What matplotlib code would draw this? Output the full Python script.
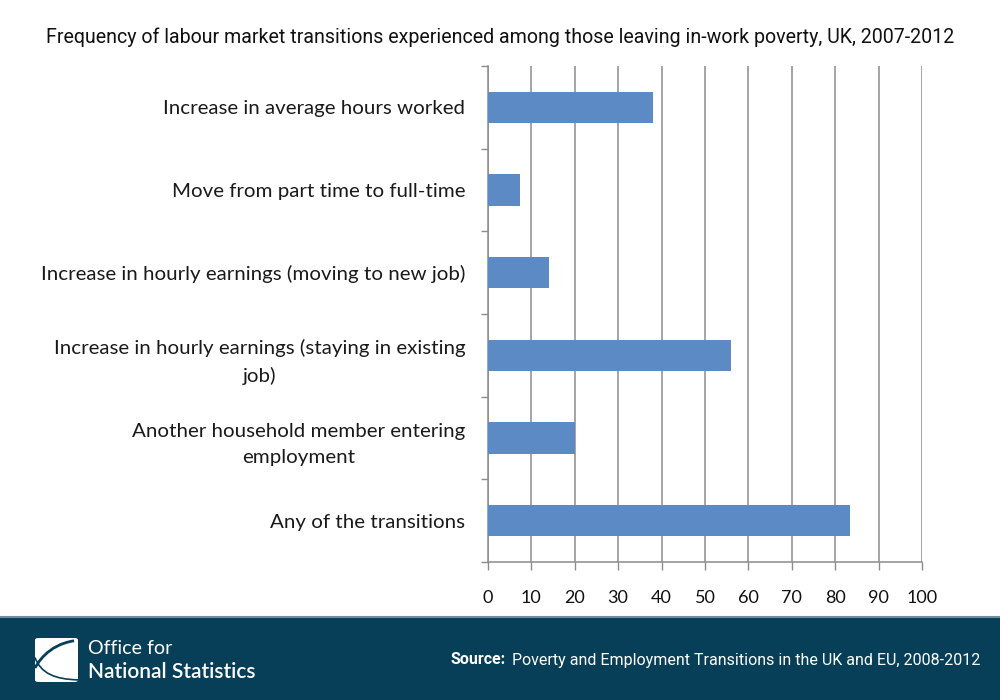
import matplotlib
matplotlib.use("Agg")
import matplotlib.pyplot as plt
from matplotlib.patches import Rectangle, FancyBboxPatch, PathPatch
from matplotlib.path import Path

title = "Frequency of labour market transitions experienced among those leaving in-work poverty, UK, 2007-2012"
categories = [
    "Increase in average hours worked",
    "Move from part time to full-time",
    "Increase in hourly earnings (moving to new job)",
    "Increase in hourly earnings (staying in existing\njob)",
    "Another household member entering\nemployment",
    "Any of the transitions",
]
values = [38, 7.5, 14, 56, 20, 83.3]
xticks = [0, 10, 20, 30, 40, 50, 60, 70, 80, 90, 100]
source_label = "Source:"
source_text = "Poverty and Employment Transitions in the UK and EU, 2008-2012"
org_line1 = "Office for"
org_line2 = "National Statistics"

W, H = 1000, 700
fig = plt.figure(figsize=(10, 7), dpi=100)
fig.patch.set_facecolor("white")

cond = ["Roboto", "DejaVu Sans"]
lab = ["Lato", "DejaVu Sans"]


def fit(t, width_px):
    fig.canvas.draw()
    w = t.get_window_extent().width
    t.set_fontsize(t.get_fontsize() * width_px / w)


ax = fig.add_axes([487.7 / W, 1 - 562 / H, (922.3 - 487.7) / W, (562 - 66) / H])
n = len(categories)
ypos = list(range(n))
ax.barh(ypos, values, height=0.38, color="#5B8AC5", zorder=3)
ax.set_ylim(n - 0.5, -0.5)
ax.set_xlim(0, 100)
ax.set_xticks(xticks)
ax.set_xticklabels([str(t) for t in xticks], fontsize=13, family=lab, color="#111111")
ax.set_yticks([i - 0.5 for i in range(n + 1)], minor=False)
ax.set_yticklabels([""] * (n + 1))
ax.set_yticks(ypos, minor=True)
ylabs = ax.set_yticklabels(categories, minor=True, fontsize=14, family=lab, color="#1a1a1a",
                           ha="right", multialignment="center", linespacing=1.65)
ax.tick_params(axis="y", which="minor", length=0, pad=16)
ax.tick_params(axis="y", which="major", length=5, color="#8c8c8c", width=1)
ax.tick_params(axis="x", length=6, color="#8c8c8c", width=1, pad=14)
ax.grid(axis="x", color="#8c8c8c", linewidth=1.1, zorder=0)
for s in ["top", "right"]:
    ax.spines[s].set_visible(False)
for s in ["left", "bottom"]:
    ax.spines[s].set_color("#8c8c8c")
    ax.spines[s].set_linewidth(1.1)

fig.canvas.draw()
w0 = ylabs[0].get_window_extent().width
scale = 303 / w0
for tl in ylabs:
    tl.set_fontsize(14 * scale)

tt = fig.text(0.5, 1 - 37 / H, title, ha="center", va="center", fontsize=14, family=cond, color="#111111")
fit(tt, 914)

# footer
footer = Rectangle((0, 0), 1, 1 - 617 / H, transform=fig.transFigure, facecolor="#073E58",
                   edgecolor="none", zorder=0)
fig.patches.append(footer)
fig.add_artist(plt.Line2D([0, 1], [1 - 617 / H, 1 - 617 / H], transform=fig.transFigure,
                          color="#6f8fa0", linewidth=1.5))

# logo
lx0, lx1, ly0, ly1 = 35 / W, 78 / W, 1 - 682 / H, 1 - 638 / H
logo = FancyBboxPatch((lx0, ly0), lx1 - lx0, ly1 - ly0, boxstyle="round,pad=0,rounding_size=0.003",
                      transform=fig.transFigure, facecolor="white", edgecolor="none")
fig.patches.append(logo)
verts = [(lx1 - 0.004, ly1 - 0.004), (lx0 + 0.012, ly1 - 0.01), (lx0 + 0.002, ly0 + 0.025), (lx0, ly0 + 0.02)]
p = Path(verts, [Path.MOVETO, Path.CURVE4, Path.CURVE4, Path.CURVE4])
fig.patches.append(PathPatch(p, transform=fig.transFigure, facecolor="none", edgecolor="#073E58", linewidth=2))
verts2 = [(lx0, ly0 + 0.035), (lx0 + 0.006, ly0 + 0.012), (lx0 + 0.02, ly0 + 0.004), (lx1, ly0 + 0.003)]
p2 = Path(verts2, [Path.MOVETO, Path.CURVE4, Path.CURVE4, Path.CURVE4])
fig.patches.append(PathPatch(p2, transform=fig.transFigure, facecolor="none", edgecolor="#073E58", linewidth=1.2))

o1 = fig.text(88 / W, 1 - 649 / H, org_line1, ha="left", va="center", fontsize=16, family=lab, color="white")
fit(o1, 84)
o2 = fig.text(88 / W, 1 - 672 / H, org_line2, ha="left", va="center", fontsize=16, family=lab,
              color="white", fontweight="semibold")
fit(o2, 167)

t = fig.text(980 / W, 1 - 660 / H, source_text, ha="right", va="center", fontsize=12, family=cond, color="white")
fit(t, 465)
fig.canvas.draw()
bb = t.get_window_extent()
fig.text((bb.x0 - 6) / W, 1 - 660 / H, source_label, ha="right", va="center", fontsize=t.get_fontsize(),
         family=cond, color="white", fontweight="bold")

fig.savefig("out.png", dpi=100)
